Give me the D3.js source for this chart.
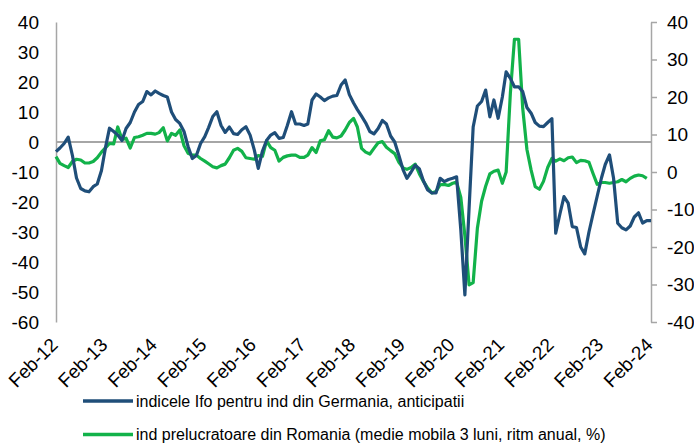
<!DOCTYPE html>
<html>
<head>
<meta charset="utf-8">
<script src="https://cdn.jsdelivr.net/npm/d3@7"></script>
<style>
  body { margin: 0; background: #fff; }
  text { font-family: "Liberation Sans", Arial, sans-serif; }
</style>
</head>
<body>
<div id="viz-container"></div>
<script>

// monthly data, first point = Feb-12
let startMonth = "2012-02";

// Ifo expectations (left axis), Feb-12 .. Feb-24
let ifoValues = [
  -3.2, -2, -0.5, 1.6, -4.5, -12, -15.5, -16.3, -16.6, -14.9, -14, -9.5,
  -1.5, 4.6, 3.5, 2.3, 0.5, 4.5, 6.5, 10, 12.5, 13.5, 16.8, 15.7,
  17, 16.2, 15.5, 15, 10, 7.5, 6.2, 3.5, -1.5, -5.5, -4.5, -0.5,
  1.8, 4.8, 8.5, 10.1, 5.5, 3.2, 5, 2.8, 2.5, 4.1, 5.1, 2.3,
  -2.7, -8.8, -3, 0.5, 2.3, 3.1, 1.2, 1.5, 5.5, 10.1, 6, 6,
  5.5, 6, 14, 16, 15, 13.8, 14.7, 15.3, 15.5, 19, 20.7, 15.8,
  13, 10.8, 8.6, 6.4, 3.5, 2.7, 4.5, 7.2, 6, 2, 0, -4.5,
  -9.3, -12.1, -10, -7.7, -9, -13, -16, -17, -17, -12.1, -13.2, -12.5,
  -12.1, -11.6, -29.3, -51, -22, 5, 12, 13.5, 17.3, 8.4, 14, 7.9,
  15, 23.4, 21.2, 18.4, 18.4, 16.8, 11.5, 9.6, 6.5, 5.3, 5.1, 6.5,
  7.8, -30.4, -24, -18.2, -20.4, -28.2, -28.5, -35, -37.3, -30, -24, -18,
  -12, -7.5, -4.3, -12, -27.1, -28.6, -29.3, -28, -25, -23.6, -27, -26.2,
  -26.2
];

// Romanian manufacturing, 3m moving avg, % y/y (right axis), Feb-12 .. Jan-24
let roValues = [
  4.1, 2.3, 1.7, 1.2, 2.8, 3.4, 3.2, 2.4, 2.4, 2.8, 3.8, 5.3,
  6.5, 7.6, 7.5, 12, 8.7, 9, 6.4, 9.2, 9.4, 9.8, 10.3, 10.3,
  10.1, 10.5, 11.8, 8.3, 10.3, 9.8, 11.2, 7, 5, 4.5, 4.5, 3.6,
  2.9, 2.2, 1.4, 1.1, 1.7, 2.1, 3.8, 5.8, 6.3, 5.5, 3.8, 3.6,
  3.4, 4.4, 4.2, 8.3, 6.5, 5.8, 2.9, 3.9, 4.3, 4.5, 4.5, 3.9,
  3.9, 4.5, 6.5, 5.2, 8.3, 8.6, 11, 9.3, 9.1, 9.6, 11.2, 13.2,
  14.3, 12, 6.3, 5.3, 4.8, 6.3, 7.8, 8.1, 6.6, 5.7, 4.9, 2.6,
  1.1, 0.7, 1.2, 2.1, -0.5, -2.5, -4.3, -5.6, -5.2, -3.4, -3.3, -3.6,
  -3, -2.7, -6.8, -17, -30.1, -29.5, -15, -7.8, -3.8, -0.5, 0.2, 0.5,
  -3, 0, 21, 35.4, 35.4, 17, 6, 0.5, -3.9, -4.6, -2.5, 1.2,
  3.6, 2.9, 3.5, 3, 3.8, 4, 2.5, 3.1, 3, 2.6, -0.4, -3.3,
  -2.8, -2.8, -3, -2.8, -2.6, -2, -2.6, -1.7, -1.1, -0.8, -1, -1.7
];

let leftTicks = [40, 30, 20, 10, 0, -10, -20, -30, -40, -50, -60];
let rightTicks = [40, 30, 20, 10, 0, -10, -20, -30, -40];
let xTickLabels = ["Feb-12", "Feb-13", "Feb-14", "Feb-15", "Feb-16", "Feb-17", "Feb-18",
                   "Feb-19", "Feb-20", "Feb-21", "Feb-22", "Feb-23", "Feb-24"];

let legendNames = [
  "indicele Ifo pentru ind din Germania, anticipatii",
  "ind prelucratoare din Romania (medie mobila 3 luni, ritm anual, %)"
];

let blue = "#1f4e79";
let green = "#12b24a";
let grey = "#a6a6a6";

let parseMonth = d3.timeParse("%Y-%m");
let start = parseMonth(startMonth);

function toPoints(values){
  return values.map(function(v, i){
    return { date: d3.timeMonth.offset(start, i), value: v };
  });
}

// plain hyphen for negatives, like the original
function plainNumber(d){
  return String(d);
}

let ifoData = toPoints(ifoValues);
let roData = toPoints(roValues);

// create svg
let viz = d3.select("#viz-container")
  .append("svg")
    .attr("width", 694)
    .attr("height", 443);

let x = d3.scaleTime()
  .domain([start, d3.timeMonth.offset(start, 144)])
  .range([56, 651]);

let yLeft = d3.scaleLinear().domain([-60, 40]).range([322, 22]);
let yRight = d3.scaleLinear().domain([-40, 40]).range([322, 22]);

// left axis: line + labels, no ticks
let leftAxis = d3.axisLeft(yLeft).tickValues(leftTicks).tickFormat(plainNumber)
  .tickSize(0).tickPadding(17);
let gLeft = viz.append("g").attr("transform", "translate(56,0)").call(leftAxis);
gLeft.select(".domain").attr("stroke", grey).attr("stroke-width", 1.5);
gLeft.selectAll("text").attr("font-size", 19).attr("fill", "#000")
  .attr("font-family", "Liberation Sans, Arial, sans-serif");

// right axis with outward ticks
let rightAxis = d3.axisRight(yRight).tickValues(rightTicks).tickFormat(plainNumber)
  .tickSize(6).tickPadding(10).tickSizeOuter(0);
let gRight = viz.append("g").attr("transform", "translate(651,0)").call(rightAxis);
gRight.select(".domain").attr("stroke", grey).attr("stroke-width", 1.5);
gRight.selectAll("line").attr("stroke", grey).attr("stroke-width", 1.5);
gRight.selectAll("text").attr("font-size", 19).attr("fill", "#000")
  .attr("font-family", "Liberation Sans, Arial, sans-serif");

// zero line of the left axis
viz.append("line")
  .attr("x1", x.range()[0])
  .attr("x2", x.range()[1])
  .attr("y1", yLeft(0))
  .attr("y2", yLeft(0))
  .attr("stroke", grey)
  .attr("stroke-width", 2);

// x labels, rotated
let xTickDates = xTickLabels.map(function(d, i){ return d3.timeYear.offset(start, i); });
viz.selectAll(".xlabel").data(xTickLabels).enter().append("text")
  .attr("class", "xlabel")
  .attr("transform", function(d, i){
    return "translate(" + (x(xTickDates[i]) + 3) + ",346) rotate(-45)";
  })
  .attr("text-anchor", "end")
  .attr("font-size", 19)
  .attr("fill", "#000")
  .text(function(d){ return d; });

// lines
let lineLeft = d3.line().x(function(d){ return x(d.date); }).y(function(d){ return yLeft(d.value); });
let lineRight = d3.line().x(function(d){ return x(d.date); }).y(function(d){ return yRight(d.value); });

viz.append("path")
  .datum(roData)
  .attr("d", lineRight)
  .attr("fill", "none")
  .attr("stroke", green)
  .attr("stroke-width", 3.2)
  .attr("stroke-linejoin", "round");

viz.append("path")
  .datum(ifoData)
  .attr("d", lineLeft)
  .attr("fill", "none")
  .attr("stroke", blue)
  .attr("stroke-width", 3.2)
  .attr("stroke-linejoin", "round");

// legend
let legendColors = [blue, green];
let legend = viz.selectAll(".legend").data(legendNames).enter().append("g")
  .attr("class", "legend")
  .attr("transform", function(d, i){ return "translate(83," + (401 + i * 33.5) + ")"; });

legend.append("line")
  .attr("x1", 0).attr("x2", 50)
  .attr("stroke", function(d, i){ return legendColors[i]; })
  .attr("stroke-width", 3.5);

legend.append("text")
  .attr("x", 53)
  .attr("y", 5.5)
  .attr("font-size", 16)
  .attr("fill", "#000")
  .text(function(d){ return d; });

</script>
</body>
</html>
